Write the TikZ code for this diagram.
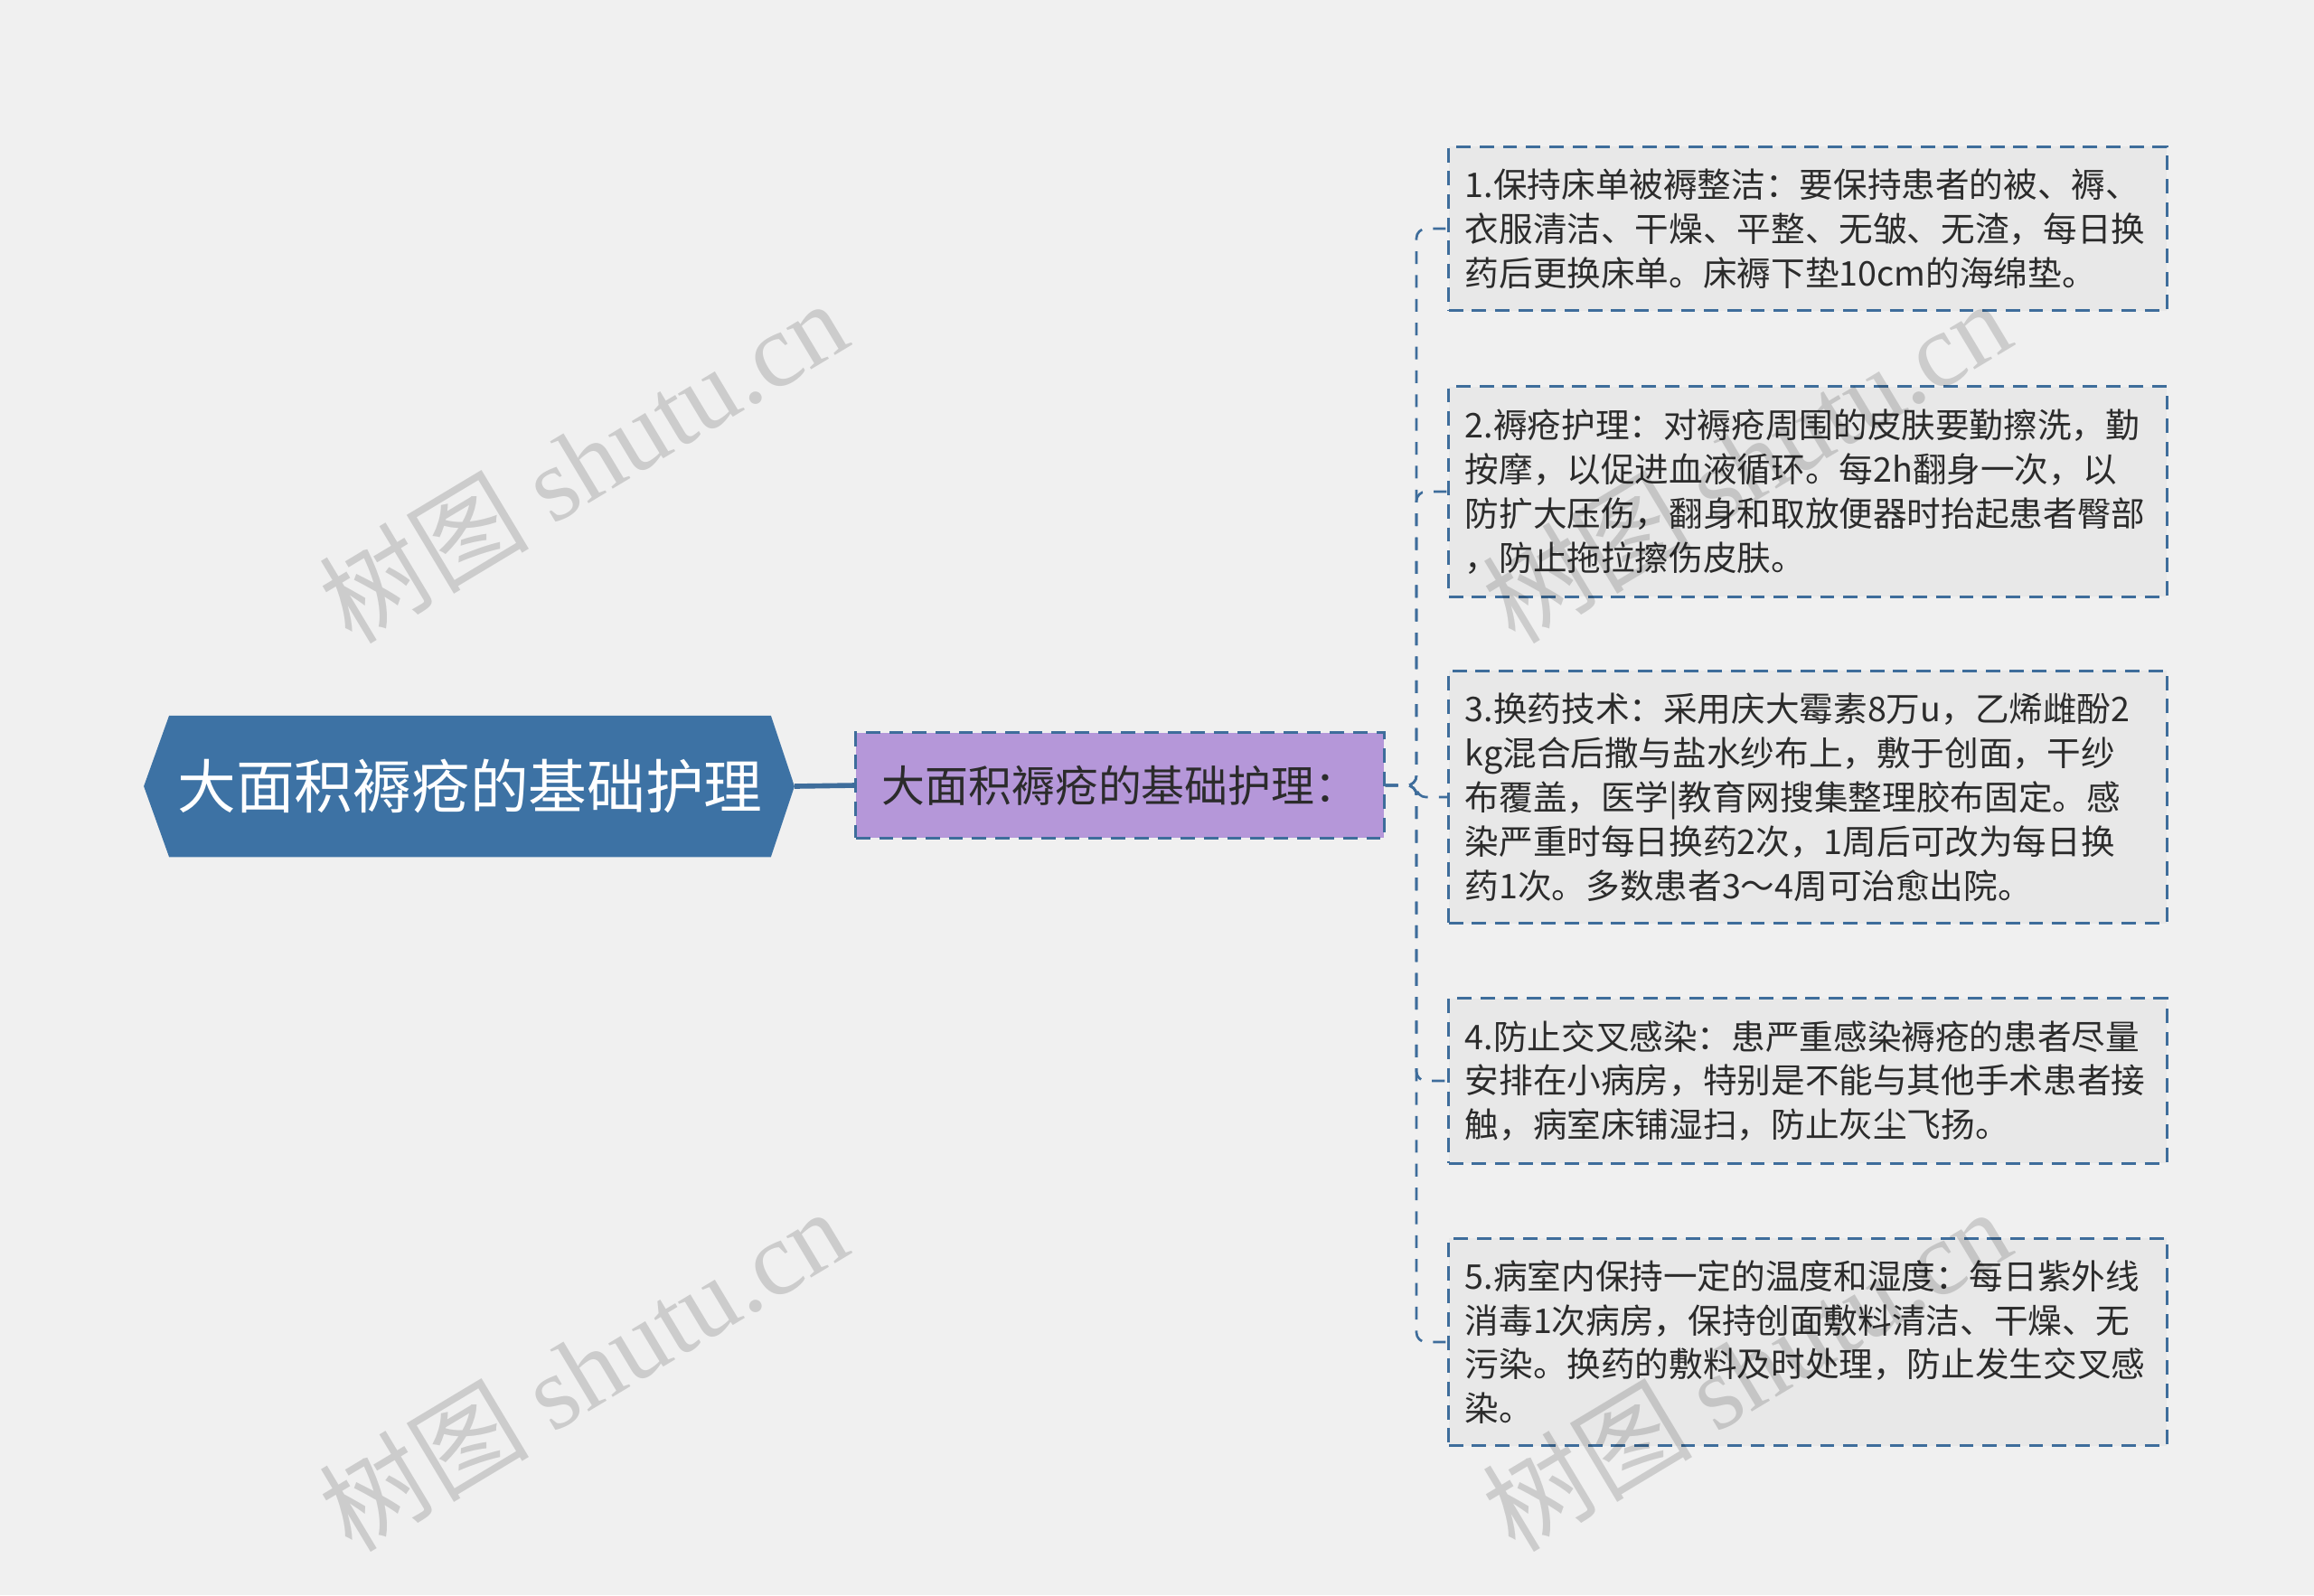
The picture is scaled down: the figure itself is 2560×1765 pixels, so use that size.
\documentclass[tikz,border=0pt]{standalone}
\usepackage{fontspec}
\setmainfont{Noto Sans CJK SC}
\newfontfamily\wmfont{Liberation Serif}
\usetikzlibrary{backgrounds}
\definecolor{bgcol}{HTML}{F0F0F0}
\definecolor{rootblue}{HTML}{3D72A4}
\definecolor{edgeblue}{HTML}{3E6D9B}
\definecolor{midpurple}{HTML}{B597D9}
\definecolor{leaffill}{HTML}{E8E8E8}
\definecolor{textdark}{HTML}{2B2B2B}
\tikzstyle{rootnode}=[text=white, minimum width=6.64cm, minimum height=1.55cm, inner sep=0pt, font=\fontsize{18.4}{22}\selectfont]
\tikzstyle{midnode}=[draw=edgeblue, fill=midpurple, line width=0.85pt, dash pattern=on 4.5pt off 2.8pt, text=textdark, minimum width=5.84cm, minimum height=1.16cm, inner sep=0pt, font=\fontsize{13.6}{16}\selectfont]
\tikzstyle{leafnode}=[draw=edgeblue, fill=leaffill, line width=0.85pt, dash pattern=on 4.5pt off 2.8pt, text=textdark, text width=7.58cm, inner xsep=0.18cm, inner ysep=0pt, align=left, font=\fontsize{10.7}{13.9}\selectfont]
\tikzstyle{conn}=[draw=edgeblue, line width=0.75pt, dash pattern=on 4pt off 3.5pt, rounded corners=3pt]
\tikzstyle{rootlink}=[draw=edgeblue, line width=1.6pt]
\tikzstyle{watermark}=[text=black, text opacity=0.15, rotate=31, font=\fontsize{33}{38}\selectfont]

\begin{document}
\begin{tikzpicture}[x=0.01cm, y=-0.01cm]
\useasboundingbox (0,0) rectangle (2560,1765);
\begin{scope}[on background layer]
    \fill[bgcol] (0,0) rectangle (2560,1765);
\end{scope}
% Root
    \node[rootnode] (root) at (520,870) {大面积褥疮的基础护理};
\begin{scope}[on background layer]
    \fill[rootblue] (root.north west) -- (root.north east) -- ([xshift=0.26cm]root.east)
        -- (root.south east) -- (root.south west) -- ([xshift=-0.28cm]root.west) -- cycle;
\end{scope}
% Middle
    \node[midnode] (mid) at (1239,869) {大面积褥疮的基础护理：};
% Leaves
    \node[leafnode, minimum height=1.81cm] (leaf1) at (2000,253) {1.保持床单被褥整洁：要保持患者的被、褥、\\衣服清洁、干燥、平整、无皱、无渣，每日换\\药后更换床单。床褥下垫10cm的海绵垫。};
    \node[leafnode, minimum height=2.32cm] (leaf2) at (2000,544) {2.褥疮护理：对褥疮周围的皮肤要勤擦洗，勤\\按摩，以促进血液循环。每2h翻身一次，以\\防扩大压伤，翻身和取放便器时抬起患者臀部\\，防止拖拉擦伤皮肤。};
    \node[leafnode, minimum height=2.79cm] (leaf3) at (2000,882) {3.换药技术：采用庆大霉素8万u，乙烯雌酚2\\kg混合后撒与盐水纱布上，敷于创面，干纱\\布覆盖，医学|教育网搜集整理胶布固定。感\\染严重时每日换药2次，1周后可改为每日换\\药1次。多数患者3～4周可治愈出院。};
    \node[leafnode, minimum height=1.82cm] (leaf4) at (2000,1196) {4.防止交叉感染：患严重感染褥疮的患者尽量\\安排在小病房，特别是不能与其他手术患者接\\触，病室床铺湿扫，防止灰尘飞扬。};
    \node[leafnode, minimum height=2.29cm] (leaf5) at (2000,1485) {5.病室内保持一定的温度和湿度：每日紫外线\\消毒1次病房，保持创面敷料清洁、干燥、无\\污染。换药的敷料及时处理，防止发生交叉感\\染。};
% Links
    \draw[rootlink] ([xshift=0.26cm]root.east) -- (mid.west);
    \coordinate (trunk) at (1567,869);
    \draw[conn] (mid.east) -- (trunk) |- (leaf1.west);
    \draw[conn] (mid.east) -- (trunk) |- (leaf2.west);
    \draw[conn] (mid.east) -- (trunk) |- (leaf3.west);
    \draw[conn] (mid.east) -- (trunk) |- (leaf4.west);
    \draw[conn] (mid.east) -- (trunk) |- (leaf5.west);
% Watermarks
    \node[watermark] (wm1) at (645,510) {树图 {\wmfont shutu.cn}};
    \node[watermark] (wm2) at (645,1515) {树图 {\wmfont shutu.cn}};
    \node[watermark] (wm3) at (1932,510) {树图 {\wmfont shutu.cn}};
    \node[watermark] (wm4) at (1932,1515) {树图 {\wmfont shutu.cn}};
\end{tikzpicture}
\end{document}
